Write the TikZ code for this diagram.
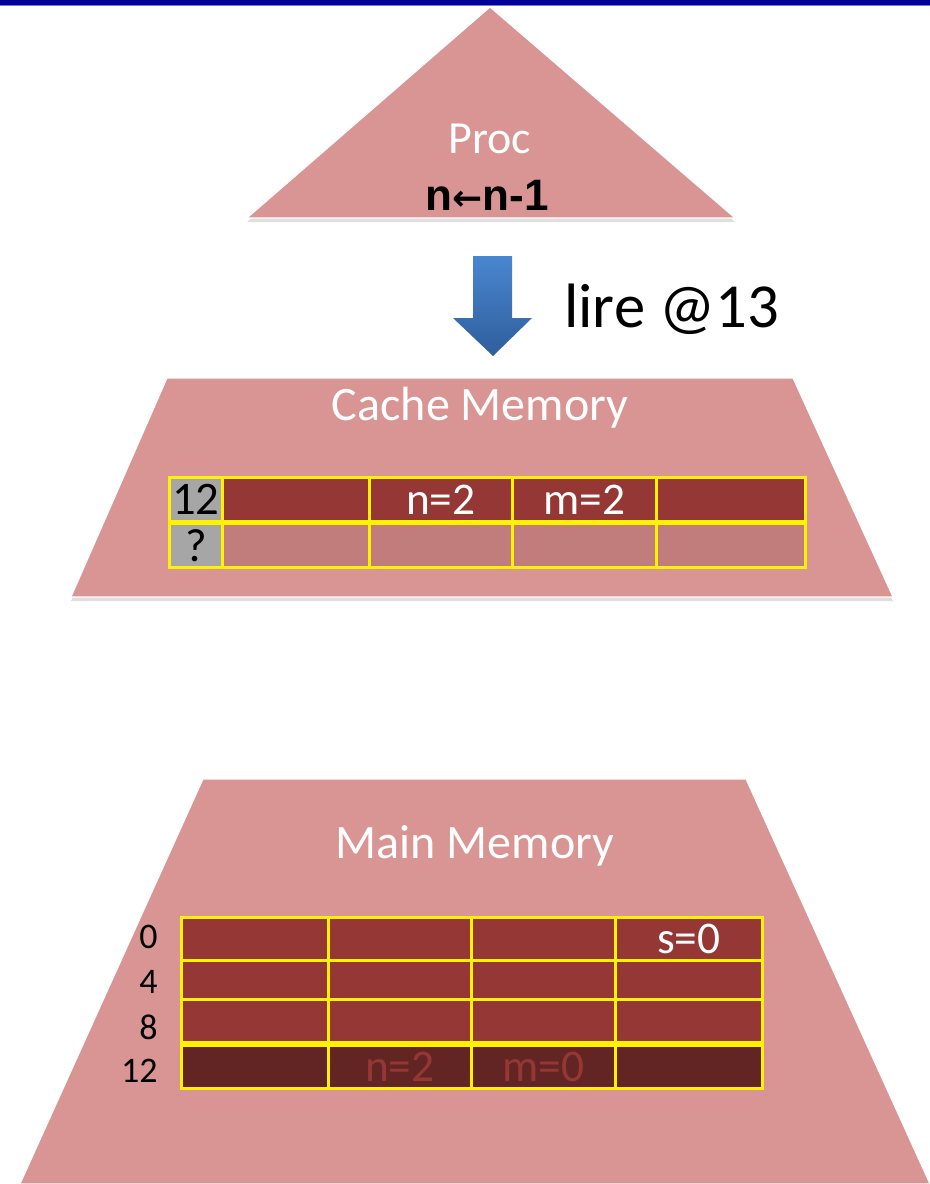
\documentclass[tikz,border=0pt]{standalone}
\usepackage{fontspec}
\setmainfont{Carlito}
\newfontfamily\arialfont{Liberation Sans}
\newfontfamily\symbfont{DejaVu Sans}
\usetikzlibrary{shadows}
\definecolor{pyramid}{RGB}{217,149,148}
\definecolor{cellred}{RGB}{149,55,53}
\definecolor{celldark}{RGB}{99,37,35}
\definecolor{cellpale}{RGB}{193,125,123}
\definecolor{taggray}{RGB}{166,166,166}
\definecolor{barblue}{RGB}{0,0,153}
\definecolor{barline}{RGB}{120,120,210}
\definecolor{arrowtop}{RGB}{74,134,207}
\definecolor{arrowbot}{RGB}{46,94,156}
\tikzset{
    level/.style={fill=pyramid, draw=white, line width=0.8pt,
        drop shadow={opacity=0.25, shadow xshift=0pt, shadow yshift=-3pt}},
    title/.style={anchor=base, inner sep=0pt, text=white, font=\fontsize{36}{36}\selectfont},
    cellbase/.style={draw=yellow, line width=2pt, inner sep=0pt, anchor=north west,
        font=\fontsize{34}{34}\selectfont},
    redcell/.style={cellbase, fill=cellred, text=white},
    darkcell/.style={cellbase, fill=celldark, text=cellred},
    palecell/.style={cellbase, fill=cellpale},
    tagcell/.style={cellbase, fill=taggray, text=black, font=\fontsize{35}{35}\selectfont},
    addr/.style={anchor=east, inner sep=0pt, font=\fontsize{27}{27}\selectfont}
}
\begin{document}
\begin{tikzpicture}[x=0.75pt, y=-0.75pt]
    \useasboundingbox (0,0) rectangle (930,1184);
    % Top bar
    \fill[barblue] (0,0) rectangle (930,5);
    \draw[barline, line width=1pt] (0,5.8) -- (930,5.8);
    % Processor
    \filldraw[level] (490,7) -- (735,218) -- (247,218) -- cycle;
    \node[title, font=\fontsize{34.5}{34.5}\selectfont] (proc) at (490,154) {Proc};
    \node[anchor=base, inner sep=0pt, font=\arialfont\bfseries\fontsize{33}{33}\selectfont] (instr) at (487,210)
        {n{\symbfont\bfseries\fontsize{27}{27}\selectfont ←}n-1};
    % Read request
    \shade[top color=arrowtop, bottom color=arrowbot]
        (473,256) -- (512,256) -- (512,318) -- (532,318) -- (493,356) -- (453,318) -- (473,318) -- cycle;
    \node[anchor=base west, inner sep=0pt, font=\fontsize{47}{47}\selectfont] (req) at (564,327) {lire @13};
    % Cache memory
    \filldraw[level] (167,378) -- (793,378) -- (893,597) -- (71,597) -- cycle;
    \node[title] (cache) at (480,420) {Cache Memory};
    \foreach \a/\b/\t/\s in {168/221/12/tagcell, 221/368//redcell, 368/511/n=2/redcell, 511/655/m=2/redcell, 655/804//redcell}
        \node[\s, minimum width={(\b-\a)*0.75pt}, minimum height=33pt] (line1-\a) at (\a,476) {\t};
    \foreach \a/\b/\t/\s in {168/221/?/tagcell, 221/368//palecell, 368/511//palecell, 511/655//palecell, 655/804//palecell}
        \node[\s, minimum width={(\b-\a)*0.75pt}, minimum height=33pt] (line2-\a) at (\a,522) {\t};
    % Main memory
    \filldraw[level] (203,779) -- (746,779) -- (930,1184) -- (20,1184) -- cycle;
    \node[title] (main) at (475,858) {Main Memory};
    \foreach \y/\h/\s/\r in {916/43/redcell/0, 959/39/redcell/4, 998/43/redcell/8, 1044/43/darkcell/12}
        \foreach \a/\b in {180/327, 327/470, 470/614, 614/761}
            \node[\s, minimum width={(\b-\a)*0.75pt}, minimum height={\h*0.75pt}] (mem\r-\a) at (\a,\y) {};
    \node[text=white, font=\fontsize{34}{34}\selectfont] (s) at (mem0-614.center) {s=0};
    \node[text=cellred, font=\fontsize{34}{34}\selectfont] (n) at (mem12-327.center) {n=2};
    \node[text=cellred, font=\fontsize{34}{34}\selectfont] (m) at (mem12-470.center) {m=0};
    % Addresses
    \foreach \r/\y in {0/937, 4/982, 8/1027, 12/1071}
        \node[addr] (addr\r) at (158,\y) {\r};
\end{tikzpicture}
\end{document}
